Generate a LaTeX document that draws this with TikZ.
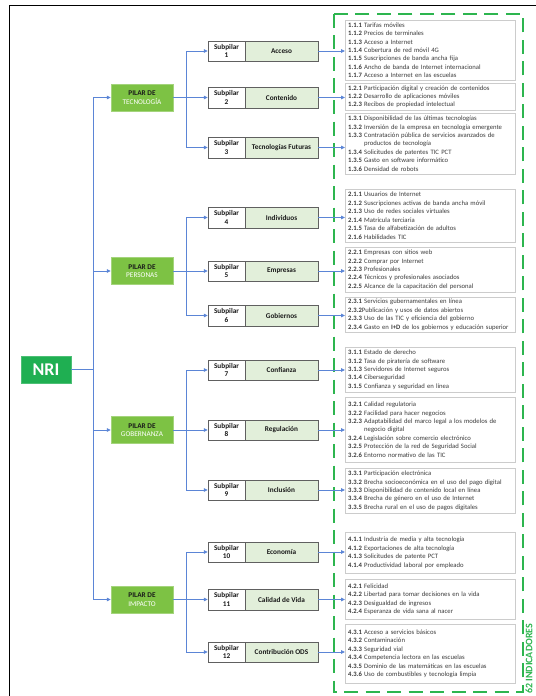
\documentclass[tikz,border=0pt]{standalone}
\usepackage{fontspec}
\setmainfont{Carlito}
\usetikzlibrary{arrows.meta,calc}
\definecolor{nrigreen}{HTML}{1FAF52}
\definecolor{pilgreen}{HTML}{7DC244}
\definecolor{subgreen}{HTML}{E2EFDA}
\definecolor{conblue}{HTML}{5B85D6}
\definecolor{dashgreen}{HTML}{2DB54F}
\definecolor{indtext}{HTML}{3B3B3B}
\definecolor{darktext}{HTML}{1A1A1A}
\newcommand{\ii}[2]{\makebox[16bp][l]{\textbf{#1}}#2}
\newcommand{\ic}[1]{\hspace*{16bp}#1}
\begin{document}
\begin{tikzpicture}[x=1bp,y=-1bp,
  nribox/.style={fill=nrigreen,draw=nrigreen!80!white,minimum width=50bp,minimum height=27bp,inner sep=0pt,text=white,font=\fontsize{18}{20}\selectfont\bfseries},
  pilbox/.style={fill=pilgreen,draw=pilgreen!70!white,minimum width=62bp,minimum height=27bp,inner sep=0pt,align=center,font=\fontsize{7.3}{8.6}\selectfont,text=darktext},
  subw/.style={fill=white,draw=gray!75!black,minimum width=37bp,minimum height=20.5bp,inner sep=0pt,align=center,font=\fontsize{7.3}{8.3}\selectfont\bfseries,text=darktext},
  subg/.style={fill=subgreen,draw=gray!75!black,minimum width=73bp,minimum height=20.5bp,inner sep=0pt,align=center,font=\fontsize{7.3}{8.3}\selectfont\bfseries,text=darktext},
  ind/.style={draw=gray!40,fill=white,inner xsep=3bp,inner ysep=0pt,text width=164bp,align=left,anchor=north west,font=\fontsize{6.7}{8.45}\selectfont,text=indtext},
  arr/.style={draw=conblue,line width=0.8bp,-{Triangle[length=4bp,width=3.6bp]}},
  ln/.style={draw=conblue,line width=0.8bp}
]
\useasboundingbox (0,0) rectangle (536,696);
% frame
\draw[line width=1bp] (9.5,696) -- (9.5,6) -- (536,6);
% dashed box
\draw[dashgreen,line width=1.8bp,dash pattern=on 14bp off 7.5bp] (334,14) rectangle (523,692);
\node[rotate=90,anchor=west,text=dashgreen,font=\fontsize{10}{12}\selectfont\bfseries,inner sep=0pt] (lbl) at (529,694) {62 INDICADORES};

% NRI
\node[nribox] (nri) at (46,369.5) {NRI};
% pillars
\node[pilbox] (p1) at (142,97.5) {\textbf{PILAR DE}\\\textcolor{white}{TECNOLOGÍA}};
\node[pilbox] (p2) at (142,271) {\textbf{PILAR DE}\\\textcolor{white}{PERSONAS}};
\node[pilbox] (p3) at (142,430) {\textbf{PILAR DE}\\\textcolor{white}{GOBERNANZA}};
\node[pilbox] (p4) at (142,599.5) {\textbf{PILAR DE}\\\textcolor{white}{IMPACTO}};

% subpillars
\foreach \n/\y/\t in {1/51/Acceso,2/97.5/Contenido,3/147.5/Tecnologías Futuras,4/217.5/Individuos,5/271/Empresas,6/315.5/Gobiernos,7/370/Confianza,8/430/Regulación,9/490/Inclusión,10/552/Economía,11/599.5/Calidad de Vida,12/652/Contribución ODS}{
  \node[subw] (s\n) at (226.5,\y) {Subpilar\\\n};
  \node[subg] (g\n) at (281.5,\y) {\t};
}

% indicator boxes
\node[ind,minimum height=60bp] (i1) at (345,20) {\ii{1.1.1}{Tarifas móviles}\\\ii{1.1.2}{Precios de terminales}\\\ii{1.1.3}{Acceso a Internet}\\\ii{1.1.4}{Cobertura de red móvil 4G}\\\ii{1.1.5}{Suscripciones de banda ancha fija}\\\ii{1.1.6}{Ancho de banda de Internet internacional}\\\ii{1.1.7}{Acceso a Internet en las escuelas}};
\node[ind,minimum height=27bp] (i2) at (345,83) {\ii{1.2.1}{Participación digital y creación de contenidos}\\\ii{1.2.2}{Desarrollo de aplicaciones móviles}\\\ii{1.2.3}{Recibos de propiedad intelectual}};
\node[ind,minimum height=61bp] (i3) at (345,113) {\ii{1.3.1}{Disponibilidad de las últimas tecnologías}\\\ii{1.3.2}{Inversión de la empresa en tecnología emergente}\\\ii{1.3.3}{Contratación pública de servicios avanzados de}\\\ic{productos de tecnología}\\\ii{1.3.4}{Solicitudes de patentes TIC PCT}\\\ii{1.3.5}{Gasto en software informático}\\\ii{1.3.6}{Densidad de robots}};
\node[ind,minimum height=53bp] (i4) at (345,189) {\ii{2.1.1}{Usuarios de Internet}\\\ii{2.1.2}{Suscripciones activas de banda ancha móvil}\\\ii{2.1.3}{Uso de redes sociales virtuales}\\\ii{2.1.4}{Matrícula terciaria}\\\ii{2.1.5}{Tasa de alfabetización de adultos}\\\ii{2.1.6}{Habilidades TIC}};
\node[ind,minimum height=45bp] (i5) at (345,247) {\ii{2.2.1}{Empresas con sitios web}\\\ii{2.2.2}{Comprar por Internet}\\\ii{2.2.3}{Profesionales}\\\ii{2.2.4}{Técnicos y profesionales asociados}\\\ii{2.2.5}{Alcance de la capacitación del personal}};
\node[ind,minimum height=35bp] (i6) at (345,297) {\ii{2.3.1}{Servicios gubernamentales en línea}\\\textbf{2.3.2}Publicación y usos de datos abiertos\\\ii{2.3.3}{Uso de las TIC y eficiencia del gobierno}\\\ii{2.3.4}{Gasto en \textbf{I+D} de los gobiernos y educación superior}};
\node[ind,minimum height=45bp] (i7) at (345,347) {\ii{3.1.1}{Estado de derecho}\\\ii{3.1.2}{Tasa de piratería de software}\\\ii{3.1.3}{Servidores de Internet seguros}\\\ii{3.1.4}{Ciberseguridad}\\\ii{3.1.5}{Confianza y seguridad en línea}};
\node[ind,minimum height=65bp] (i8) at (345,397) {\ii{3.2.1}{Calidad regulatoria}\\\ii{3.2.2}{Facilidad para hacer negocios}\\\ii{3.2.3}{Adaptabilidad del marco legal a los modelos de}\\\ic{negocio digital}\\\ii{3.2.4}{Legislación sobre comercio electrónico}\\\ii{3.2.5}{Protección de la red de Seguridad Social}\\\ii{3.2.6}{Entorno normativo de las TIC}};
\node[ind,minimum height=45bp] (i9) at (345,468) {\ii{3.3.1}{Participación electrónica}\\\ii{3.3.2}{Brecha socioeconómica en el uso del pago digital}\\\ii{3.3.3}{Disponibilidad de contenido local en línea}\\\ii{3.3.4}{Brecha de género en el uso de Internet}\\\ii{3.3.5}{Brecha rural en el uso de pagos digitales}};
\node[ind,minimum height=41bp] (i10) at (345,532) {\ii{4.1.1}{Industria de media y alta tecnología}\\\ii{4.1.2}{Exportaciones de alta tecnología}\\\ii{4.1.3}{Solicitudes de patente PCT}\\\ii{4.1.4}{Productividad laboral por empleado}};
\node[ind,minimum height=40bp] (i11) at (345,579) {\ii{4.2.1}{Felicidad}\\\ii{4.2.2}{Libertad para tomar decisiones en la vida}\\\ii{4.2.3}{Desigualdad de ingresos}\\\ii{4.2.4}{Esperanza de vida sana al nacer}};
\node[ind,minimum height=59bp] (i12) at (345,624) {\ii{4.3.1}{Acceso a servicios básicos}\\\ii{4.3.2}{Contaminación}\\\ii{4.3.3}{Seguridad vial}\\\ii{4.3.4}{Competencia lectora en las escuelas}\\\ii{4.3.5}{Dominio de las matemáticas en las escuelas}\\\ii{4.3.6}{Uso de combustibles y tecnología limpia}};

% connectors NRI -> pillars
\foreach \p in {1,2,3,4}{
  \draw[arr] (nri.east) -- ++(21.7,0) |- (p\p.west);
}
% pillars -> subpillars
\foreach \p/\a/\b/\c in {1/1/2/3,2/4/5/6,3/7/8/9,4/10/11/12}{
  \draw[arr] (p\p.east) -- ++(12.7,0) |- (s\a.west);
  \draw[arr] (p\p.east) -- (s\b.west);
  \draw[arr] (p\p.east) -- ++(12.7,0) |- (s\c.west);
}
% subpillars -> indicator boxes
\foreach \n in {1,...,12}{
  \draw[arr] (g\n.east) -- (g\n.east -| i\n.west);
}
\end{tikzpicture}
\end{document}
